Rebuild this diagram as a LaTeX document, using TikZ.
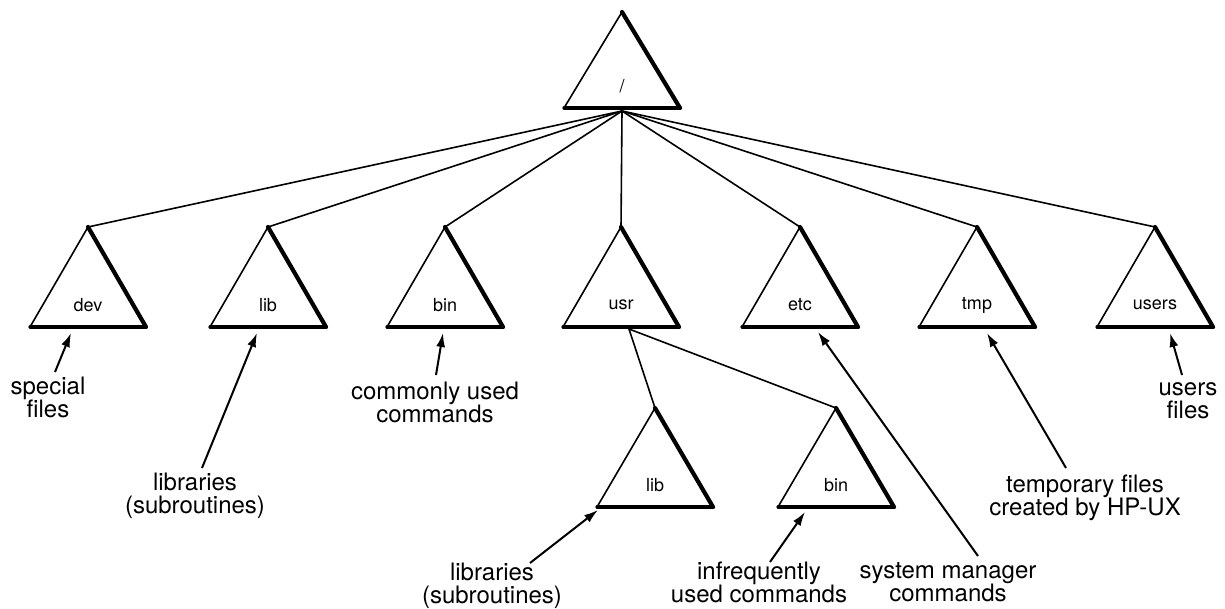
\documentclass[tikz,border=0pt]{standalone}
\usepackage{fontspec}
\setmainfont{TeX Gyre Heros}
\usepackage{tikz}
\usetikzlibrary{arrows.meta, calc}

\newcommand{\dirTriangle}[5]{% name, base x, base y, height, text
    \coordinate (#1-base) at ({#2},{#3});
    \coordinate (#1-top) at ({#2},{#3-#4});
    \coordinate (#1-left) at ({#2-58},{#3});
    \coordinate (#1-right) at ({#2+58},{#3});
    \node[dirLabel] (#1) at ({#2},{#3-22}) {#5};
    \draw[thinSide] (#1-left) -- (#1-top);
    \draw[thickSide] (#1-top) -- (#1-right);
    \draw[baseSide] (#1-left) -- (#1-right);
}

\begin{document}
\begin{tikzpicture}[
        x=0.5pt, y=-0.5pt,
        dirLabel/.style={font=\fontsize{9}{10}\selectfont, inner sep=0pt},
        noteLabel/.style={align=center, anchor=north, inner sep=0pt, font=\fontsize{12}{11.5}\selectfont},
        thinSide/.style={line width=0.8pt, line join=miter},
        thickSide/.style={line width=2.1pt, line cap=round},
        baseSide/.style={line width=1.6pt, line cap=round},
        branch/.style={line width=0.8pt},
        arrow/.style={-{Latex[length=7pt, width=4.5pt]}, line width=1pt}
    ]
        \useasboundingbox (0,0) rectangle (1225,609);

        \dirTriangle{root}{622}{108}{96}{/}
        \dirTriangle{dev}{88}{327}{100}{dev}
        \dirTriangle{lib}{268}{327}{100}{lib}
        \dirTriangle{bin}{445}{327}{100}{bin}
        \dirTriangle{usr}{621}{327}{100}{usr}
        \dirTriangle{etc}{800}{327}{100}{etc}
        \dirTriangle{tmp}{977}{327}{100}{tmp}
        \dirTriangle{users}{1155}{327}{100}{users}
        \dirTriangle{usrLib}{655}{507}{99}{lib}
        \dirTriangle{usrBin}{836}{507}{99}{bin}

        \coordinate (rootFork) at ($(root-base)+(0,3)$);
        \coordinate (usrFork) at ($(usr-base)+(8,2)$);

        \draw[branch] (rootFork) -- (dev-top);
        \draw[branch] (rootFork) -- (lib-top);
        \draw[branch] (rootFork) -- (bin-top);
        \draw[branch] (rootFork) -- (usr-top);
        \draw[branch] (rootFork) -- (etc-top);
        \draw[branch] (rootFork) -- (tmp-top);
        \draw[branch] (rootFork) -- (users-top);
        \draw[branch] (usrFork) -- (usrLib-top);
        \draw[branch] (usrFork) -- (usrBin-top);

        \node[noteLabel] (specialNote) at (48,377) {special\\files};
        \node[noteLabel] (libNote) at (195,473) {libraries\\(subroutines)};
        \node[noteLabel] (binNote) at (435,382) {commonly used\\commands};
        \node[noteLabel] (usrLibNote) at (492,563) {libraries\\(subroutines)};
        \node[noteLabel] (usrBinNote) at (759,562) {infrequently\\used commands};
        \node[noteLabel] (etcNote) at (948,562) {system manager\\commands};
        \node[noteLabel] (tmpNote) at (1085,475) {temporary files\\created by HP-UX};
        \node[noteLabel] (usersNote) at (1188,382) {users\\files};

        \draw[arrow] ($(specialNote.north)+(7,-5)$) -- ($(dev-base)+(-17,6)$);
        \draw[arrow] ($(libNote.north)+(7,-5)$) -- ($(lib-base)+(-11,6)$);
        \draw[arrow] ($(binNote.north)+(1,-7)$) -- ($(bin-base)+(-2,6)$);
        \draw[arrow] ($(usrLibNote.north)+(38,0)$) -- ($(usrLib-base)+(-57,3)$);
        \draw[arrow] ($(usrBinNote.north)+(11,0)$) -- ($(usrBin-base)+(-31,5)$);
        \draw[arrow] ($(etcNote.north)+(30,-6)$) -- ($(etc-base)+(18,5)$);
        \draw[arrow] ($(tmpNote.north)+(-19,-7)$) -- ($(tmp-base)+(10,6)$);
        \draw[arrow] ($(usersNote.north)+(-6,-7)$) -- ($(users-base)+(15,6)$);
    \end{tikzpicture}
\end{document}
